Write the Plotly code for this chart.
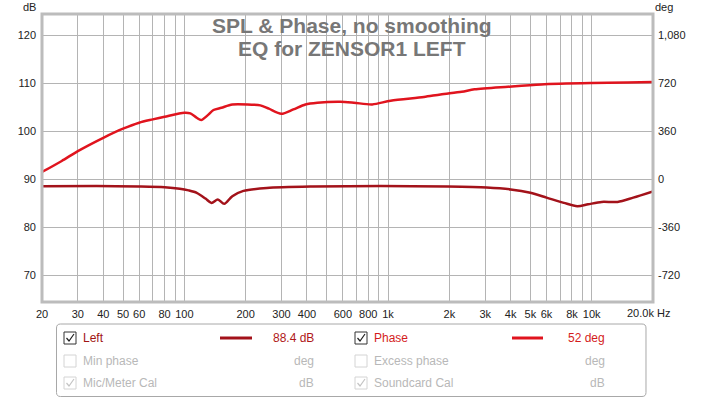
import plotly.graph_objects as go

# ---------------- data ----------------
spl_freq = [20, 37, 60, 80, 95, 105, 115, 127, 136, 146, 157, 172, 195, 254, 428,
            920, 1960, 3050, 4000, 5000, 6000, 7300, 8500, 9600, 11200, 13400, 16000, 20000]
spl_db = [88.55, 88.6, 88.5, 88.35, 88.05, 87.7, 87.2, 86.0, 85.1, 85.8, 84.9, 86.5, 87.6, 88.2, 88.5,
          88.6, 88.5, 88.3, 87.9, 87.2, 86.2, 85.1, 84.4, 84.8, 85.3, 85.3, 86.2, 87.5]

phase_freq = [20, 25, 30, 40, 50, 60, 70, 80, 100, 107, 115, 121, 130, 139, 152, 172, 217, 236,
              260, 299, 343, 393, 450, 583, 680, 836, 1030, 1500, 1810, 2300, 2660, 3880, 5650,
              10000, 15000, 20000]
phase_deg = [55, 138, 212, 312, 380, 425, 450, 470, 500, 495, 462, 445, 480, 520, 537, 562, 560, 555,
             530, 492, 525, 562, 575, 582, 575, 562, 590, 618, 637, 657, 675, 695, 712,
             722, 726, 730]

x_grid = [20, 30, 40, 50, 60, 70, 80, 90, 100, 200, 300, 400, 500, 600, 700, 800, 900,
          1000, 2000, 3000, 4000, 5000, 6000, 7000, 8000, 9000, 10000]
x_text = ["20", "30", "40", "50", "60", "", "80", "", "100", "200", "300", "400", "", "600", "", "800", "",
          "1k", "2k", "3k", "4k", "5k", "6k", "", "8k", "", "10k"]
db_ticks = [70, 80, 90, 100, 110, 120]
deg_ticks = [-720, -360, 0, 360, 720, 1080]
deg_text = ["-720", "-360", "0", "360", "720", "1,080"]

title_lines = ["SPL & Phase, no smoothing", "EQ for ZENSOR1 LEFT"]

# ---------------- geometry ----------------
W, H = 703, 398
L, R, T, B = 42, 653, 14, 302
DB_RANGE = [64.45, 124.45]
DEG_RANGE = [(DB_RANGE[0] - 90) * 36, (DB_RANGE[1] - 90) * 36]


def xp(px):
    return (px - L) / (R - L)


def yp(py):
    return (B - py) / (B - T)


SPL_COL = "#a3121a"
PH_COL = "#e0141e"
GRID = "#b4b4b4"
FONT = "Liberation Sans"
TXT = "#222222"
LEG_FS = 12

fig = go.Figure()
fig.add_trace(go.Scatter(x=spl_freq, y=spl_db, mode="lines",
                         line=dict(color=SPL_COL, width=2.5, shape="spline", smoothing=0.8),
                         yaxis="y", hoverinfo="skip"))
fig.add_trace(go.Scatter(x=phase_freq, y=phase_deg, mode="lines",
                         line=dict(color=PH_COL, width=2.5, shape="spline", smoothing=0.8),
                         yaxis="y2", hoverinfo="skip"))

fig.update_layout(
    width=W, height=H,
    margin=dict(l=L, r=W - R, t=T, b=H - B, pad=0, autoexpand=False),
    paper_bgcolor="white", plot_bgcolor="white",
    showlegend=False,
    font=dict(family=FONT, size=11, color=TXT),
    xaxis=dict(type="log", range=[1.30103, 4.30103], tickvals=x_grid, ticktext=x_text,
               showgrid=True, gridcolor=GRID, gridwidth=1, zeroline=False, showline=False,
               ticks="", tickfont=dict(size=11, color=TXT), ticklabelstandoff=4, automargin=False),
    yaxis=dict(range=DB_RANGE, tickvals=db_ticks, showgrid=True, gridcolor=GRID, gridwidth=1,
               zeroline=False, showline=False, ticks="", tickfont=dict(size=11, color=TXT),
               ticklabelstandoff=5, automargin=False),
    yaxis2=dict(range=DEG_RANGE, tickvals=deg_ticks, ticktext=deg_text, overlaying="y", side="right",
                showgrid=False, zeroline=False, showline=False, ticks="",
                tickfont=dict(size=11, color=TXT), ticklabelstandoff=4, automargin=False),
)

shapes = []
annots = []

# plot border
shapes.append(dict(type="rect", xref="paper", yref="paper", x0=0, x1=1, y0=0, y1=1,
                   line=dict(color="#bcbcbc", width=3), fillcolor="rgba(0,0,0,0)", layer="above"))

# axis unit labels
annots.append(dict(text="dB", x=xp(29), y=yp(7), xref="paper", yref="paper", showarrow=False,
                   font=dict(size=11, color=TXT, family=FONT), xanchor="center", yanchor="middle"))
annots.append(dict(text="deg", x=xp(664), y=yp(7), xref="paper", yref="paper", showarrow=False,
                   font=dict(size=11, color=TXT, family=FONT), xanchor="center", yanchor="middle"))
annots.append(dict(text="20.0k Hz", x=xp(648), y=yp(313), xref="paper", yref="paper", showarrow=False,
                   font=dict(size=11, color=TXT, family=FONT), xanchor="center", yanchor="middle"))

# title
for i, ln in enumerate(title_lines):
    annots.append(dict(text="<b>%s</b>" % ln, x=xp(352), y=yp(26 + 22 * i), xref="paper", yref="paper",
                       showarrow=False, font=dict(size=21, color="#777777", family=FONT),
                       xanchor="center", yanchor="middle"))

# legend panel (rounded rect)
def rrect(x0, y0, x1, y1, r):
    X0, X1 = xp(x0), xp(x1)
    Y0, Y1 = yp(y0), yp(y1)
    rx = r / (R - L)
    ry = r / (B - T)
    return ("M %f,%f L %f,%f Q %f,%f %f,%f L %f,%f Q %f,%f %f,%f L %f,%f Q %f,%f %f,%f L %f,%f Q %f,%f %f,%f Z"
            % (X0 + rx, Y0, X1 - rx, Y0, X1, Y0, X1, Y0 - ry, X1, Y1 + ry, X1, Y1, X1 - rx, Y1,
               X0 + rx, Y1, X0, Y1, X0, Y1 + ry, X0, Y0 - ry, X0, Y0, X0 + rx, Y0))


shapes.append(dict(type="path", xref="paper", yref="paper", path=rrect(56.5, 324, 646, 396.5, 4),
                   line=dict(color="#a8a8a8", width=1), fillcolor="white"))

rows = [
    # (x_box, y, label, label_col, line_col, value, value_col, value_right, checked, enabled, line_x0, line_x1)
    (64, 338, "Left", "#a01414", SPL_COL, "88.4 dB", "#b01818", 316, True, True, 220, 252),
    (64, 361, "Min phase", "#b8b8b8", None, "deg", "#b8b8b8", 316, False, False, 0, 0),
    (64, 383, "Mic/Meter Cal", "#b8b8b8", None, "dB", "#b8b8b8", 316, True, False, 0, 0),
    (355, 338, "Phase", "#d41c1c", PH_COL, "52 deg", "#d41c1c", 607, True, True, 512, 543),
    (355, 361, "Excess phase", "#b8b8b8", None, "deg", "#b8b8b8", 607, False, False, 0, 0),
    (355, 383, "Soundcard Cal", "#b8b8b8", None, "dB", "#b8b8b8", 607, True, False, 0, 0),
]

for (bx, cy, lab, lc, lnc, val, vc, vr, chk, en, lx0, lx1) in rows:
    bcol = "#333333" if en else "#d4d4d4"
    shapes.append(dict(type="rect", xref="paper", yref="paper", x0=xp(bx), x1=xp(bx + 12),
                       y0=yp(cy - 6), y1=yp(cy + 6), line=dict(color=bcol, width=1), fillcolor="white"))
    if chk:
        ccol = "#222222" if en else "#c4c4c4"
        shapes.append(dict(type="path", xref="paper", yref="paper",
                           path="M %f,%f L %f,%f L %f,%f" % (xp(bx + 2.5), yp(cy), xp(bx + 5), yp(cy + 3),
                                                             xp(bx + 10), yp(cy - 4)),
                           line=dict(color=ccol, width=1.2)))
    annots.append(dict(text=lab, x=xp(bx + 17), y=yp(cy), xref="paper", yref="paper", showarrow=False,
                       font=dict(size=LEG_FS, color=lc, family=FONT), xanchor="left", yanchor="middle"))
    annots.append(dict(text=val, x=xp(vr), y=yp(cy), xref="paper", yref="paper", showarrow=False,
                       font=dict(size=LEG_FS, color=vc, family=FONT), xanchor="right", yanchor="middle"))
    if lnc:
        shapes.append(dict(type="line", xref="paper", yref="paper", x0=xp(lx0), x1=xp(lx1),
                           y0=yp(cy), y1=yp(cy), line=dict(color=lnc, width=3)))

fig.update_layout(shapes=shapes, annotations=annots)
fig.write_html("out.html", config={"displayModeBar": False},
               post_script="document.body.style.margin='0';document.body.style.padding='0';")
